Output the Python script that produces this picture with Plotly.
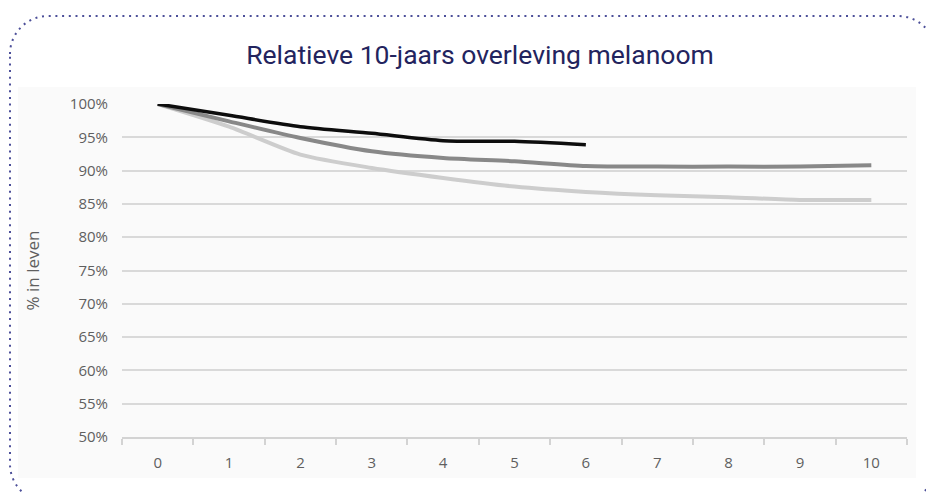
import plotly.graph_objects as go

# Years since diagnosis and relative survival (%) per cohort
years = ["0", "1", "2", "3", "4", "5", "6", "7", "8", "9", "10"]
survival_recent = [100, 98.3, 96.6, 95.6, 94.5, 94.4, 93.9]
survival_middle = [100, 97.4, 94.9, 92.9, 91.9, 91.4, 90.7, 90.6, 90.6, 90.6, 90.8]
survival_early = [100, 96.6, 92.4, 90.4, 88.9, 87.6, 86.8, 86.3, 86.0, 85.6, 85.6]

y_ticks = [50, 55, 60, 65, 70, 75, 80, 85, 90, 95, 100]
y_tick_text = [f"{v}%" for v in y_ticks]

W, H = 926, 492
L, R, T, B = 122, 19, 104, 55
PW, PH = W - L - R, H - T - B


def px(x):
    return (x - L) / PW


def py(y):
    return (H - B - y) / PH


def rounded_rect_path(x0, y0, x1, y1, r):
    k = 0.5523 * r
    pts = [
        ("M", [(x0, y0 + r)]),
        ("C", [(x0, y0 + r - k), (x0 + r - k, y0), (x0 + r, y0)]),
        ("L", [(x1 - r, y0)]),
        ("C", [(x1 - r + k, y0), (x1, y0 + r - k), (x1, y0 + r)]),
        ("L", [(x1, y1 - r)]),
        ("C", [(x1, y1 - r + k), (x1 - r + k, y1), (x1 - r, y1)]),
        ("L", [(x0 + r, y1)]),
        ("C", [(x0 + r - k, y1), (x0, y1 - r + k), (x0, y1 - r)]),
    ]
    out = []
    for cmd, ps in pts:
        out.append(cmd + " ".join(f"{px(a):.5f},{py(b):.5f}" for a, b in ps))
    return " ".join(out) + " Z"


fig = go.Figure()

fig.add_trace(go.Scatter(
    x=years[:len(survival_early)], y=survival_early, mode="lines",
    line=dict(color="#cdcdcd", width=4, shape="spline", smoothing=0.7),
    hoverinfo="skip", showlegend=False,
))
fig.add_trace(go.Scatter(
    x=years[:len(survival_middle)], y=survival_middle, mode="lines",
    line=dict(color="#888888", width=4, shape="spline", smoothing=0.7),
    hoverinfo="skip", showlegend=False,
))
fig.add_trace(go.Scatter(
    x=years[:len(survival_recent)], y=survival_recent, mode="lines",
    line=dict(color="#0d0d0d", width=3.5, shape="spline", smoothing=0.7),
    hoverinfo="skip", showlegend=False,
))

shapes = [
    # light panel behind the chart
    dict(type="rect", xref="paper", yref="paper", layer="below",
         x0=px(18), x1=px(916), y0=py(478), y1=py(87),
         fillcolor="#fafafa", line=dict(width=0)),
    # dotted rounded frame
    dict(type="path", xref="paper", yref="paper", layer="above",
         path=rounded_rect_path(10, 16, 936, 502, 38),
         line=dict(color="#4c4f99", width=2, dash="2px,4.7px")),
]

fig.update_layout(
    width=W, height=H,
    margin=dict(l=L, r=R, t=T, b=B, pad=0),
    paper_bgcolor="white",
    plot_bgcolor="rgba(0,0,0,0)",
    shapes=shapes,
    font=dict(family="Open Sans", color="#5f5f5f", size=15),
    title=dict(
        text="Relatieve 10-jaars overleving melanoom",
        x=480 / W, xref="container", xanchor="center",
        y=1 - 55 / H, yanchor="middle", yref="container",
        font=dict(family="Roboto", size=26.5, color="#23245e"),
    ),
    xaxis=dict(
        type="category", categoryorder="array", categoryarray=years,
        range=[-0.5, 10.5],
        showgrid=False, zeroline=False,
        showline=True, linecolor="#d3d3d3", linewidth=1.5,
        ticks="outside", tickson="boundaries", ticklen=6,
        tickcolor="#d3d3d3", tickwidth=1.5,
        ticklabelstandoff=11,
        tickfont=dict(size=15, color="#5f5f5f"),
    ),
    yaxis=dict(
        range=[50, 100],
        tickvals=y_ticks, ticktext=y_tick_text,
        showgrid=True, gridcolor="#d9d9d9", gridwidth=1.5,
        zeroline=False, showline=False, ticks="",
        ticklabelstandoff=13,
        tickfont=dict(size=15, color="#5f5f5f"),
        title=dict(text="% in leven", standoff=25,
                   font=dict(size=17, color="#5f5f5f")),
    ),
)

fig.write_html("out.html")
